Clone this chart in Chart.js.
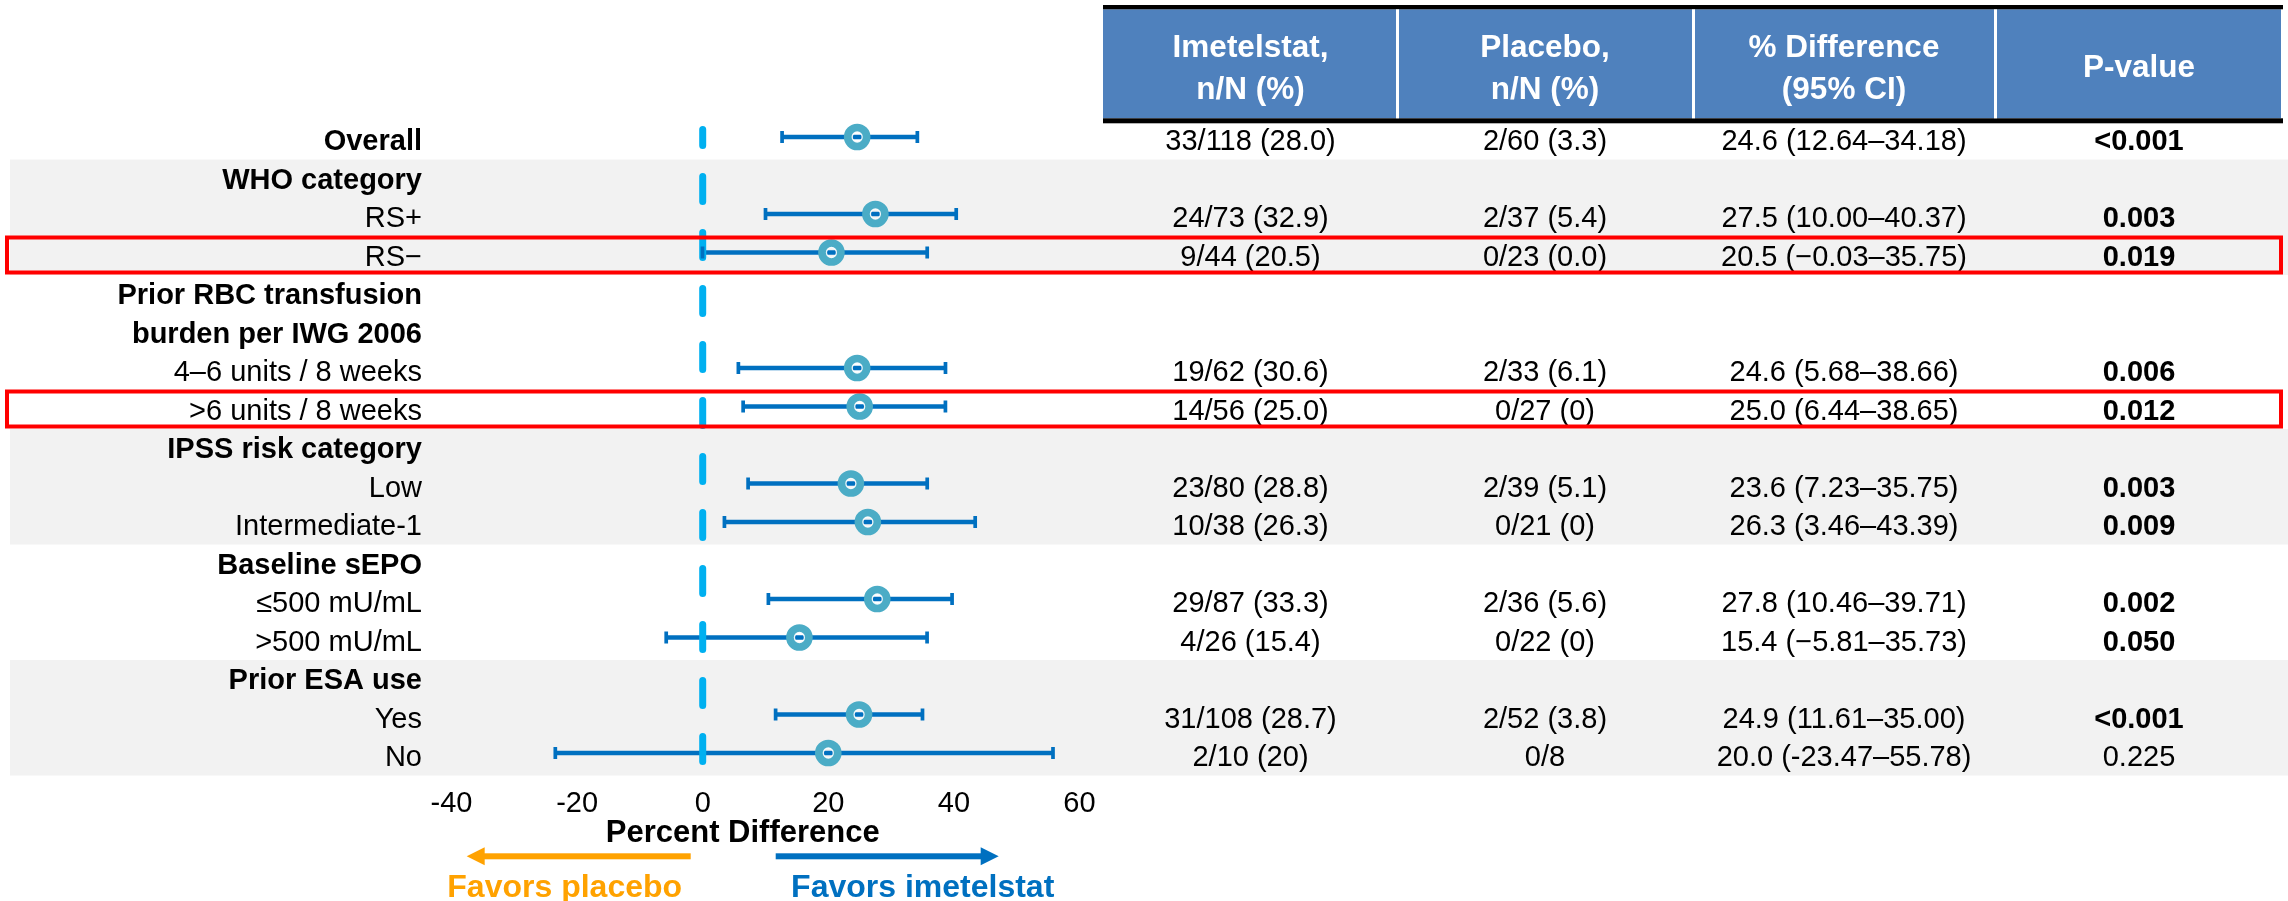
<!DOCTYPE html>
<html>
<head>
<meta charset="utf-8">
<script src="https://cdn.jsdelivr.net/npm/chart.js@4/dist/chart.umd.min.js"></script>
<style>
  html, body { margin: 0; padding: 0; background: #ffffff; }
  #wrap { position: relative; width: 2288px; height: 901px; }
</style>
</head>
<body>
<div id="wrap"><canvas id="c"></canvas></div>
<script>
// ---------- DATA ----------
const rowLabels = ['Overall', 'WHO category', 'RS+', 'RS\u2212', 'Prior RBC transfusion', 'burden per IWG 2006',
  '4\u20136 units / 8 weeks', '>6 units / 8 weeks', 'IPSS risk category', 'Low', 'Intermediate-1',
  'Baseline sEPO', '\u2264500 mU/mL', '>500 mU/mL', 'Prior ESA use', 'Yes', 'No'];
const boldRows = [0, 1, 4, 5, 8, 11, 14];
const diffValues = [24.6, null, 27.5, 20.5, null, null, 24.6, 25.0, null, 23.6, 26.3, null, 27.8, 15.4, null, 24.9, 20.0];
const ciLow      = [12.64, null, 10.00, -0.03, null, null, 5.68, 6.44, null, 7.23, 3.46, null, 10.46, -5.81, null, 11.61, -23.47];
const ciHigh     = [34.18, null, 40.37, 35.75, null, null, 38.66, 38.65, null, 35.75, 43.39, null, 39.71, 35.73, null, 35.00, 55.78];
const imetelstatCol = ['33/118 (28.0)', '', '24/73 (32.9)', '9/44 (20.5)', '', '', '19/62 (30.6)', '14/56 (25.0)', '',
  '23/80 (28.8)', '10/38 (26.3)', '', '29/87 (33.3)', '4/26 (15.4)', '', '31/108 (28.7)', '2/10 (20)'];
const placeboCol = ['2/60 (3.3)', '', '2/37 (5.4)', '0/23 (0.0)', '', '', '2/33 (6.1)', '0/27 (0)', '',
  '2/39 (5.1)', '0/21 (0)', '', '2/36 (5.6)', '0/22 (0)', '', '2/52 (3.8)', '0/8'];
const diffCol = ['24.6 (12.64\u201334.18)', '', '27.5 (10.00\u201340.37)', '20.5 (\u22120.03\u201335.75)', '', '',
  '24.6 (5.68\u201338.66)', '25.0 (6.44\u201338.65)', '', '23.6 (7.23\u201335.75)', '26.3 (3.46\u201343.39)', '',
  '27.8 (10.46\u201339.71)', '15.4 (\u22125.81\u201335.73)', '', '24.9 (11.61\u201335.00)', '20.0 (-23.47\u201355.78)'];
const pValueCol = ['<0.001', '', '0.003', '0.019', '', '', '0.006', '0.012', '', '0.003', '0.009', '', '0.002', '0.050', '', '<0.001', '0.225'];
const pValueBold = [true, false, true, true, false, false, true, true, false, true, true, false, true, true, false, true, false];
const headerLines = [['Imetelstat,', 'n/N (%)'], ['Placebo,', 'n/N (%)'], ['% Difference', '(95% CI)'], ['P-value']];
const xTicks = { min: -40, max: 60, step: 20 };
const axisTitle = 'Percent Difference';
const favorsLeft = 'Favors placebo';
const favorsRight = 'Favors imetelstat';
const shadedGroups = [[1, 3], [8, 10], [14, 16]];
const highlightedRows = [3, 7];

// ---------- derived datasets ----------
const rowIdx = rowLabels.map((_, i) => i).filter(i => diffValues[i] !== null);
const ciBars = rowIdx.map(i => ({ x: [ciLow[i], ciHigh[i]], y: i }));
const ciCaps = rowIdx.flatMap(i => [{ x: ciLow[i], y: i }, { x: ciHigh[i], y: i }]);
const points = rowIdx.map(i => ({ x: diffValues[i], y: i }));

const FONT = "'Liberation Sans', Arial, Helvetica, sans-serif";
Chart.defaults.font.family = FONT;

const W = 2288, H = 901;
const colCenters = [1250.5, 1545, 1844, 2139];

const tablePlugin = {
  id: 'forestExtras',
  beforeDraw(chart) {
    const { ctx } = chart;
    const y = chart.scales.y;
    const half = (y.getPixelForValue(1) - y.getPixelForValue(0)) / 2;
    ctx.save();
    ctx.fillStyle = '#F2F2F2';
    shadedGroups.forEach(([a, b]) => {
      const top = y.getPixelForValue(a) - half + 3.3;
      const bot = y.getPixelForValue(b) + half + 3.3;
      ctx.fillRect(10, top, W - 10, bot - top);
    });
    ctx.restore();
  },
  afterDraw(chart) {
    const { ctx } = chart;
    const x = chart.scales.x, y = chart.scales.y;
    ctx.save();
    // header
    const hx0 = 1103, hx1 = 2281;
    ctx.fillStyle = '#4F81BD';
    ctx.fillRect(hx0, 9.3, hx1 - hx0, 109);
    ctx.fillStyle = '#000000';
    ctx.fillRect(hx0, 5, 2283 - hx0, 4.3);
    ctx.fillRect(hx0, 118.3, 2283 - hx0, 5);
    ctx.fillStyle = '#FFFFFF';
    [1396, 1692, 1994].forEach(sx => ctx.fillRect(sx, 9.3, 3, 109));
    ctx.font = 'bold 31.5px ' + FONT;
    ctx.textAlign = 'center';
    ctx.textBaseline = 'alphabetic';
    headerLines.forEach((lines, c) => {
      if (lines.length === 2) {
        ctx.fillText(lines[0], colCenters[c], 56.5);
        ctx.fillText(lines[1], colCenters[c], 99);
      } else {
        ctx.fillText(lines[0], colCenters[c], 77);
      }
    });
    // table body
    ctx.fillStyle = '#000000';
    ctx.textBaseline = 'middle';
    rowLabels.forEach((_, i) => {
      const py = y.getPixelForValue(i) + 5;
      ctx.font = '29px ' + FONT;
      ctx.fillText(imetelstatCol[i], colCenters[0], py);
      ctx.fillText(placeboCol[i], colCenters[1], py);
      ctx.fillText(diffCol[i], colCenters[2], py);
      ctx.font = (pValueBold[i] ? 'bold ' : '') + '29px ' + FONT;
      ctx.fillText(pValueCol[i], colCenters[3], py);
    });
    // red highlight boxes
    ctx.strokeStyle = '#FF0000';
    ctx.lineWidth = 4;
    highlightedRows.forEach(i => {
      const py = y.getPixelForValue(i);
      ctx.strokeRect(7, py - 15, 2281 - 7, 35);
    });
    // axis title
    const zero = x.getPixelForValue(0);
    ctx.fillStyle = '#000000';
    ctx.textBaseline = 'alphabetic';
    ctx.font = 'bold 31px ' + FONT;
    ctx.fillText(axisTitle, zero + 40, 841.5);
    // arrows
    const ay = 856.3;
    ctx.fillStyle = '#FFA200';
    ctx.fillRect(zero - 236 + 17, ay - 3, 236 - 17 - 12, 6);
    ctx.beginPath();
    ctx.moveTo(zero - 236, ay); ctx.lineTo(zero - 236 + 18, ay - 9); ctx.lineTo(zero - 236 + 18, ay + 9); ctx.closePath(); ctx.fill();
    ctx.font = 'bold 32px ' + FONT;
    ctx.fillText(favorsLeft, zero - 138, 896.5);
    ctx.fillStyle = '#0070C0';
    ctx.fillRect(zero + 73, ay - 3, 296 - 73 - 17, 6);
    ctx.beginPath();
    ctx.moveTo(zero + 296, ay); ctx.lineTo(zero + 296 - 18, ay - 9); ctx.lineTo(zero + 296 - 18, ay + 9); ctx.closePath(); ctx.fill();
    ctx.fillText(favorsRight, zero + 220, 896.5);
    ctx.restore();
  }
};

new Chart(document.getElementById('c'), {
  type: 'scatter',
  data: {
    datasets: [
      { type: 'bar', label: '95% CI', indexAxis: 'y', data: ciBars, backgroundColor: '#0070C0',
        borderWidth: 0, barThickness: 4, order: 4 },
      { type: 'line', label: 'No difference', data: [{ x: 0, y: -0.195 }, { x: 0, y: 16.44 }],
        borderColor: '#00B0F0', borderWidth: 7, borderDash: [25, 31], borderDashOffset: 9,
        borderCapStyle: 'round', pointRadius: 0, fill: false, order: 3 },
      { type: 'scatter', label: 'CI caps', data: ciCaps, pointStyle: 'line', pointRotation: 90,
        pointRadius: 6, pointBorderWidth: 3.7, pointBorderColor: '#0070C0', order: 2 },
      { type: 'scatter', label: '% Difference', data: points, pointRadius: 9.15, pointBorderWidth: 8.3,
        pointBorderColor: '#4BACC6', pointBackgroundColor: 'rgba(0,0,0,0)', order: 1 },
      { type: 'scatter', label: 'inner', data: points, pointRadius: 5, pointBorderWidth: 1.3,
        pointBorderColor: 'rgba(255,255,255,0.9)', pointBackgroundColor: 'rgba(0,0,0,0)', order: 0 }
    ]
  },
  options: {
    responsive: true,
    maintainAspectRatio: false,
    animation: false,
    events: [],
    devicePixelRatio: 1,
    layout: { padding: { top: 117.75, right: W - 1079.5, bottom: 0, left: 0 } },
    plugins: { legend: { display: false }, tooltip: { enabled: false } },
    scales: {
      x: {
        type: 'linear', min: xTicks.min, max: xTicks.max, offset: false,
        ticks: { stepSize: xTicks.step, color: '#000', font: { size: 29 }, padding: 14 },
        grid: { display: false, drawTicks: false }, border: { display: false },
        afterFit(s) { s.height = 128.75; }
      },
      y: {
        type: 'linear', reverse: true, min: -0.5, max: rowLabels.length - 0.5, offset: false,
        afterBuildTicks(s) { s.ticks = rowLabels.map((_, i) => ({ value: i })); },
        ticks: {
          autoSkip: false, color: '#000', padding: 29.5, labelOffset: 5,
          callback: (v, i) => rowLabels[i],
          font: (c) => ({ size: 29, weight: boldRows.includes(c.index) ? 'bold' : 'normal' })
        },
        grid: { display: false, drawTicks: false }, border: { display: false },
        afterFit(s) { s.width = 451.5; }
      }
    }
  },
  plugins: [tablePlugin]
});
</script>
</body>
</html>
